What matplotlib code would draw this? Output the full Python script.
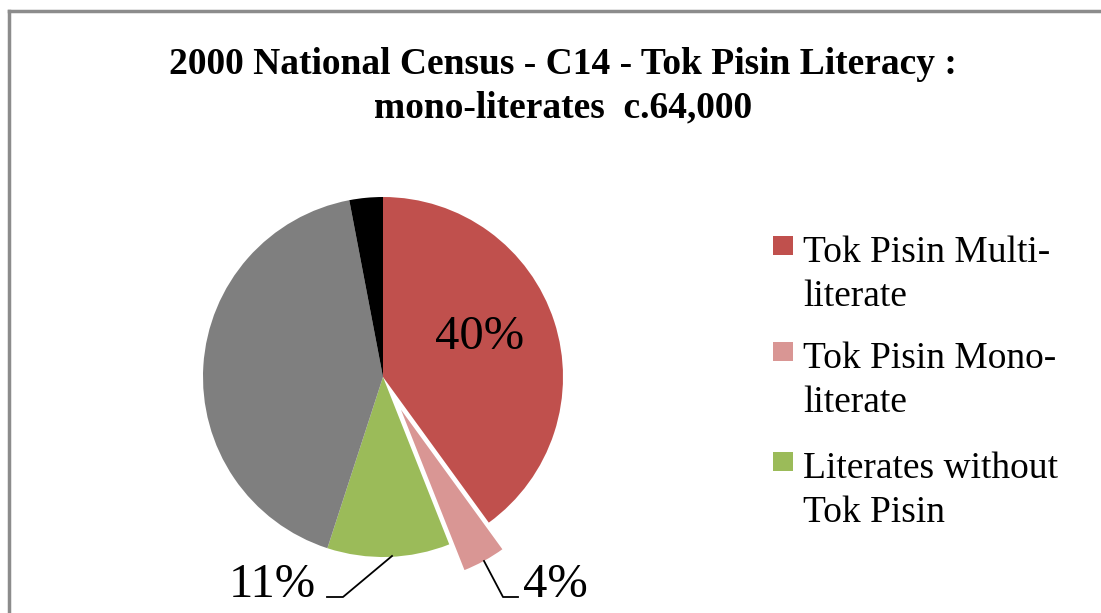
import matplotlib.pyplot as plt
from matplotlib.lines import Line2D
from matplotlib.patches import Rectangle

categories = ['Tok Pisin Multi-\nliterate', 'Tok Pisin Mono-\nliterate',
              'Literates without\nTok Pisin', 'Non-literate', 'Not stated']
shares = [40, 4, 11, 42, 3]
colors = ['#C0504D', '#D99694', '#9BBB59', '#7F7F7F', '#000000']
pct_labels = ['40%', '4%', '11%', '', '']

W, H = 1101, 613
fig = plt.figure(figsize=(W / 100, H / 100), dpi=100)

# chart frame (cropped: only top and left borders visible)
fig.add_artist(Line2D([9 / W, 9 / W], [0, 1 - 11 / H], transform=fig.transFigure,
                      color='#8c8c8c', lw=2.5))
fig.add_artist(Line2D([9 / W, 1], [1 - 11 / H, 1 - 11 / H], transform=fig.transFigure,
                      color='#8c8c8c', lw=2.5))

title_font = dict(ha='center', va='baseline', fontsize=27, fontweight='bold',
                  family='Liberation Serif')
fig.text(563 / W, 1 - 74 / H, '2000 National Census - C14 - Tok Pisin Literacy :', **title_font)
fig.text(563 / W, 1 - 117 / H, 'mono-literates  c.64,000', **title_font)

# pie axes: centre (383, 377) px, radius 180 px
cx, cy, r = 383, 377, 180
half = 200
ax = fig.add_axes([(cx - half) / W, (H - cy - half) / H, 2 * half / W, 2 * half / H])
lim = half / r

explode = [0, 0.17, 0, 0, 0]
wedges, _ = ax.pie(shares, colors=colors, startangle=90, counterclock=False,
                   explode=explode, radius=1, frame=False,
                   wedgeprops=dict(linewidth=0))
wedges[1].set_edgecolor('white')
wedges[1].set_linewidth(1.2)
ax.set_xlim(-lim, lim)
ax.set_ylim(-lim, lim)
ax.set_aspect('equal')
ax.axis('off')

def px(x, y):
    return ((x - cx) / r, (cy - y) / r)

lab_font = dict(family='Liberation Serif', fontsize=35, va='baseline', ha='center', clip_on=False)
ax.text(*px(480, 349), pct_labels[0], **lab_font)
ax.text(*px(272, 597), pct_labels[2], **lab_font)
ax.text(*px(555, 597), pct_labels[1], **lab_font)

# leader lines
for pts in ([(327, 597), (343, 597), (392, 556)], [(484, 561), (503, 597), (518, 597)]):
    xs, ys = zip(*[px(*p) for p in pts])
    ax.plot(xs, ys, color='black', lw=1.3, clip_on=False)

# legend (only the first three entries fit in the cropped chart)
baselines = [262, 368, 478]
for i, base in enumerate(baselines):
    fig.add_artist(Rectangle((773 / W, 1 - (base - 7) / H), 20 / W, 19 / H,
                             transform=fig.transFigure,
                             facecolor=colors[i], edgecolor='none'))
    for j, line in enumerate(categories[i].split('\n')):
        fig.text(803 / W, 1 - (base + 44 * j) / H, line, ha='left', va='baseline',
                 fontsize=27, family='Liberation Serif')

fig.savefig('out.png', dpi=100)
